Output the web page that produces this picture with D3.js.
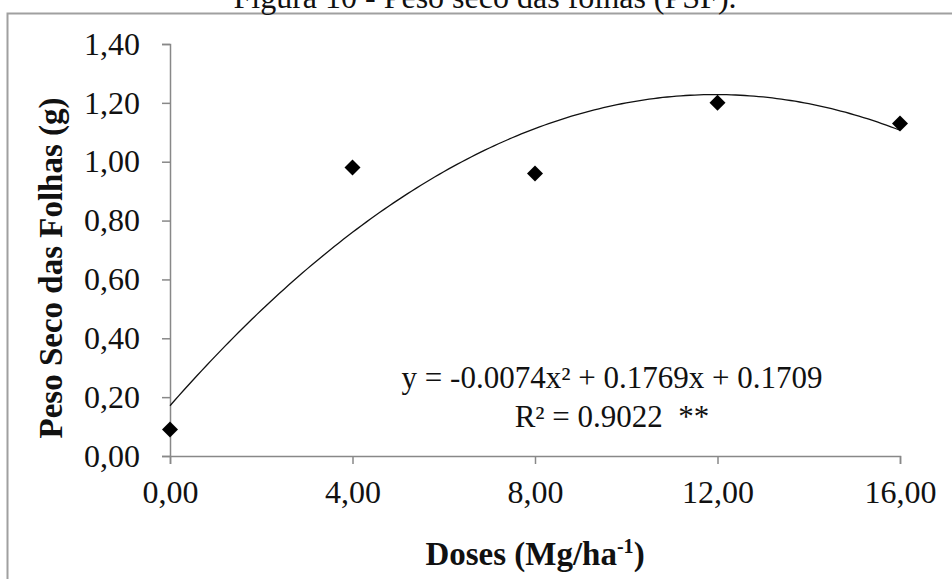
<!DOCTYPE html>
<html>
<head>
<meta charset="utf-8">
<script src="https://cdn.jsdelivr.net/npm/d3@7"></script>
<style>
  body { margin: 0; background: #fff; }
  svg { display: block; }
  svg text { font-family: "Times New Roman", "Liberation Serif", Tinos, "DejaVu Serif", serif; fill: #111; }
</style>
</head>
<body>
<div id="chart"></div>
<script>
const titleText = "Figura 10 - Peso seco das folhas (PSF).";
const labelY = "Peso Seco das Folhas (g)";
const doses = [0, 4, 8, 12, 16];
const pesoSeco = [0.09, 0.98, 0.96, 1.20, 1.13];
const xTicks = [0, 4, 8, 12, 16];
const yTicks = [0, 0.2, 0.4, 0.6, 0.8, 1.0, 1.2, 1.4];
// y = a x² + b x + c (linha de tendência)
const coef = [-0.0074, 0.1769, 0.1709];
const r2 = 0.9022;

const W = 952, H = 579;
const margin = { top: 44, right: 52, bottom: 123, left: 170 };
const width = W - margin.left - margin.right;
const height = H - margin.top - margin.bottom;
const serif = '"Times New Roman", "Liberation Serif", Tinos, serif';

const fmt = d => d3.format(".2f")(d).replace(".", ",");

const root = d3.select("#chart")
    .append("svg")
    .attr("width", W)
    .attr("height", H);

root.append("rect").attr("width", W).attr("height", H).attr("fill", "#fff");

// moldura do gráfico
root.append("path")
    .attr("d", `M7.5,${H} V13.5 H${W}`)
    .attr("fill", "none")
    .attr("stroke", "#a0a0a0")
    .attr("stroke-width", 2);

root.append("text")
    .attr("x", 485)
    .attr("y", 8)
    .attr("text-anchor", "middle")
    .attr("font-family", serif)
    .style("font-size", "32px")
    .text(titleText);

const svg = root.append("g")
    .attr("transform", `translate(${margin.left},${margin.top})`);

const x = d3.scaleLinear().domain([0, 16]).range([0, width]);
const y = d3.scaleLinear().domain([0, 1.4]).range([height, 0]);

const yAxis = svg.append("g")
    .call(d3.axisLeft(y).tickValues(yTicks).tickFormat(fmt).tickSize(8).tickPadding(22));

const xAxis = svg.append("g")
    .attr("transform", `translate(0,${height})`)
    .call(d3.axisBottom(x).tickValues(xTicks).tickFormat(fmt).tickSize(8));
xAxis.selectAll("text")
    .attr("y", 47)
    .attr("dy", null);

[yAxis, xAxis].forEach(a => {
    a.attr("font-family", serif).attr("font-size", 32);
    a.selectAll("text").attr("fill", "#111");
    a.select(".domain").attr("stroke", "#888").attr("stroke-width", 1.5);
    a.selectAll(".tick line").attr("stroke", "#888").attr("stroke-width", 1.5);
});

// linha de tendência polinomial
const trend = d3.range(0, 16.001, 0.1).map(d => [d, coef[0] * d * d + coef[1] * d + coef[2]]);
svg.append("path")
    .datum(trend)
    .attr("fill", "none")
    .attr("stroke", "#111")
    .attr("stroke-width", 1.3)
    .attr("d", d3.line().x(d => x(d[0])).y(d => y(d[1])));

svg.selectAll(".ponto")
    .data(doses.map((d, i) => ({ dose: d, valor: pesoSeco[i] })))
    .join("path")
    .attr("class", "ponto")
    .attr("transform", d => `translate(${x(d.dose)},${y(d.valor)}) rotate(45)`)
    .attr("d", d3.symbol().type(d3.symbolSquare).size(128))
    .attr("fill", "#000");

// equação
const eq = `y = ${coef[0].toFixed(4)}x² + ${coef[1].toFixed(4)}x + ${coef[2].toFixed(4)}`;
root.append("text")
    .attr("x", 612)
    .attr("y", 388)
    .attr("text-anchor", "middle")
    .attr("font-family", serif)
    .style("font-size", "31px")
    .text(eq);

root.append("text")
    .attr("x", 612)
    .attr("y", 427)
    .attr("text-anchor", "middle")
    .attr("xml:space", "preserve")
    .attr("font-family", serif)
    .style("font-size", "31px")
    .text(`R² = ${r2.toFixed(4)}  **`);

// títulos dos eixos
const xLab = root.append("text")
    .attr("x", margin.left + width / 2)
    .attr("y", 565)
    .attr("text-anchor", "middle")
    .attr("font-family", serif)
    .style("font-size", "33px")
    .style("font-weight", "bold");
xLab.append("tspan").text("Doses (Mg/ha");
xLab.append("tspan").attr("dy", -12).style("font-size", "20px").text("-1");
xLab.append("tspan").attr("dy", 12).text(")");

root.append("text")
    .attr("transform", "translate(62,268) rotate(-90)")
    .attr("text-anchor", "middle")
    .attr("font-family", serif)
    .style("font-size", "33px")
    .style("font-weight", "bold")
    .text(labelY);
</script>
</body>
</html>
